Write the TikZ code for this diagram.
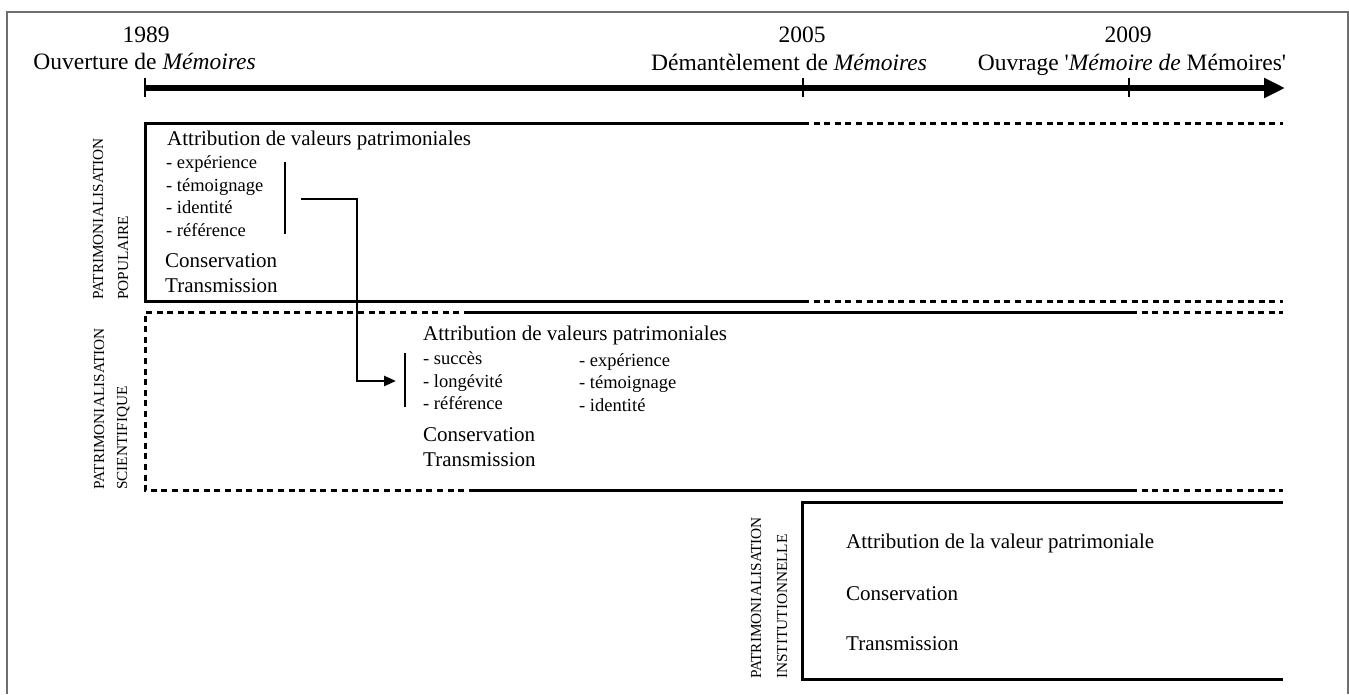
\documentclass[tikz,border=0pt]{standalone}
\usepackage{fontspec}
\setmainfont{Liberation Serif}
\usetikzlibrary{arrows.meta}
\tikzset{
  frame/.style={draw={rgb,255:red,110;green,110;blue,110}, line width=1.6pt},
  axis/.style={line width=5.5pt, -{Triangle[length=21pt,width=19pt]}},
  tick/.style={line width=2.2pt},
  boxline/.style={line width=3pt},
  dashline/.style={line width=3pt, dash pattern=on 6pt off 4.6pt},
  bar/.style={line width=2.6pt},
  conn/.style={line width=2.6pt, -{Triangle[length=12pt,width=10pt]}},
  yearlbl/.style={inner sep=0pt, anchor=base, font=\fontsize{23.5}{27}\selectfont},
  evlbl/.style={inner sep=0pt, anchor=base, font=\fontsize{23.5}{27}\selectfont},
  main/.style={inner sep=0pt, anchor=base west, font=\fontsize{21}{25}\selectfont},
  item/.style={inner sep=0pt, anchor=base west, font=\fontsize{18.5}{22}\selectfont},
  vlbl/.style={inner sep=0pt, anchor=base west, rotate=90, font=\fontsize{15.3}{18}\selectfont},
}
\begin{document}
\begin{tikzpicture}[x=1pt,y=-1pt]
\useasboundingbox (0,0) rectangle (1349,694);
% outer frame
\draw[frame] (7,694) -- (7,12) -- (1348,12) -- (1348,694);

% timeline
\coordinate (t0) at (145,88);
\coordinate (tend) at (1285,88);
\draw[axis] (t0) -- (tend);
\draw[tick] (145,78) -- (145,97);
\draw[tick] (803,78) -- (803,97);
\draw[tick] (1129,78) -- (1129,97);
\node[yearlbl] (y1989) at (146,42.7) {1989};
\node[evlbl] (e1989) at (144.5,69.3) {Ouverture de \textit{Mémoires}};
\node[yearlbl] (y2005) at (802,42.7) {2005};
\node[evlbl] (e2005) at (789,70) {Démantèlement de \textit{Mémoires}};
\node[yearlbl] (y2009) at (1128,42.7) {2009};
\node[evlbl] (e2009) at (1132,70) {Ouvrage \textquotesingle\textit{Mémoire de} Mémoires\textquotesingle};

% populaire box
\draw[boxline] (803,123) -- (145,123) -- (145,301) -- (803,301);
\draw[dashline] (803,123) -- (1283,123);
\draw[dashline] (803,301) -- (1283,301);
\node[vlbl] (vp1) at (103,300) {PATRIMONIALISATION};
\node[vlbl] (vp2) at (128,300) {POPULAIRE};
\node[main] (pa) at (167,145.7) {Attribution de valeurs patrimoniales};
\node[item] (pi1) at (166,168.3) {- expérience};
\node[item] (pi2) at (166,191) {- témoignage};
\node[item] (pi3) at (166,213.5) {- identité};
\node[item] (pi4) at (166,236) {- référence};
\node[main] (pc) at (165,267.7) {Conservation};
\node[main] (pt) at (165,292.7) {Transmission};
\draw[bar] (285,162) -- (285,234);

% scientifique box
\draw[dashline] (470,312) -- (145,312) -- (145,490) -- (470,490);
\draw[boxline] (470,312) -- (1131,312);
\draw[boxline] (470,490) -- (1131,490);
\draw[dashline] (1131,312) -- (1283,312);
\draw[dashline] (1131,490) -- (1283,490);
\node[vlbl] (vs1) at (104,490) {PATRIMONIALISATION};
\node[vlbl] (vs2) at (127,490) {SCIENTIFIQUE};
\node[main] (sa) at (423,340.7) {Attribution de valeurs patrimoniales};
\node[item] (si1) at (423,364.3) {- succès};
\node[item] (si2) at (423,387.3) {- longévité};
\node[item] (si3) at (423,409.5) {- référence};
\node[item] (sj1) at (579,366) {- expérience};
\node[item] (sj2) at (579,388.5) {- témoignage};
\node[item] (sj3) at (579,411) {- identité};
\node[main] (sc) at (423,441.7) {Conservation};
\node[main] (st) at (423,466.7) {Transmission};
\draw[bar] (405,353) -- (405,407);

% connector
\coordinate (cstart) at (301,199);
\coordinate (cend) at (396,381);
\draw[conn] (cstart) -- (357,199) |- (cend);

% institutionnelle box
\draw[boxline] (1283,502) -- (802,502) -- (802,679) -- (1283,679);
\node[vlbl] (vi1) at (761,679) {PATRIMONIALISATION};
\node[vlbl] (vi2) at (787,679) {INSTITUTIONNELLE};
\node[main] (ia) at (846,548.3) {Attribution de la valeur patrimoniale};
\node[main] (ic) at (846,600) {Conservation};
\node[main] (it) at (846,650.7) {Transmission};
\end{tikzpicture}
\end{document}
